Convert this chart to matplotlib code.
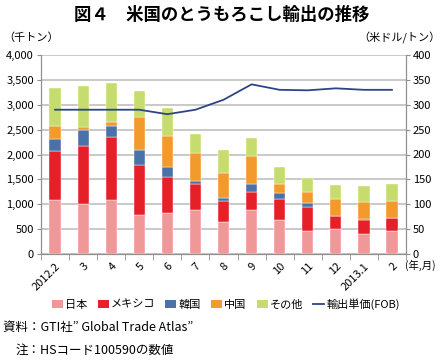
import numpy as np
import matplotlib
matplotlib.use("Agg")
import matplotlib.pyplot as plt
from matplotlib.patches import Patch
from matplotlib.lines import Line2D

plt.rcParams['font.family'] = ['Noto Sans CJK JP', 'DejaVu Sans']

# data (thousand tons, FOB price in USD/ton)
months = ["2012.2", "3", "4", "5", "6", "7", "8", "9", "10", "11", "12", "2013.1", "2"]
japan = [1090, 1000, 1090, 790, 830, 890, 640, 876, 690, 468, 508, 395, 455]
mexico = [985, 1180, 1258, 1003, 722, 522, 424, 368, 408, 475, 248, 281, 261]
korea = [240, 315, 234, 288, 187, 60, 60, 161, 127, 74, 13, 33, 5]
china = [260, 60, 74, 675, 623, 562, 495, 555, 181, 221, 328, 328, 341]
other = [770, 830, 783, 529, 575, 381, 475, 381, 341, 294, 281, 321, 348]
price = [290, 290, 290, 290, 281, 290, 310, 341, 330, 329, 333, 330, 330]

names = ["日本", "メキシコ", "韓国", "中国", "その他"]
colors = ["#f09898", "#e52028", "#4a72a8", "#f39a2c", "#c6dc6c"]
line_color = "#2e4585"

fig = plt.figure(figsize=(4.43, 3.62), dpi=100)
ax = fig.add_axes([41 / 443, 1 - 254 / 362, 365 / 443, 199 / 362])
ax2 = ax.twinx()

x = np.arange(len(months))
bottom = np.zeros(len(months))
for vals, c in zip([japan, mexico, korea, china, other], colors):
    ax.bar(x, vals, width=0.4, bottom=bottom, color=c, edgecolor="white", linewidth=0.3, zorder=3)
    bottom += np.array(vals)

ax2.plot(x, price, color=line_color, lw=1.3, zorder=4)

ax.set_xlim(-0.5, len(months) - 0.5)
ax.set_ylim(0, 4000)
ax2.set_ylim(0, 400)
ax.set_yticks(np.arange(0, 4001, 500))
ax.set_yticklabels([f"{v:,}" for v in range(0, 4001, 500)], fontsize=8)
ax2.set_yticks(np.arange(0, 401, 50))
ax2.set_yticklabels([str(v) for v in range(0, 401, 50)], fontsize=8)
ax.yaxis.grid(True, color="#c0c0c0", lw=1.2, zorder=0)
ax.set_axisbelow(True)

ax.set_xticks(x)
ax.set_xticklabels(months, rotation=45, ha="right", rotation_mode="anchor", fontsize=8)
ax.tick_params(axis="x", length=0, pad=5)
ax.set_xticks(np.arange(-0.5, len(months)), minor=True)
ax.tick_params(axis="x", which="minor", length=4, color="#909090")
ax.tick_params(axis="y", length=3, color="#909090", pad=2)
ax2.tick_params(axis="y", length=3, color="#909090", pad=2)

for a in (ax, ax2):
    a.spines["top"].set_visible(False)
    for s in ("left", "right", "bottom"):
        a.spines[s].set_color("#909090")

fig.text(0.5, 1 - 15 / 362, "図４　米国のとうもろこし輸出の推移", ha="center", va="center",
         fontsize=12.5, fontweight="bold")
fig.text(3 / 443, 1 - 38 / 362, "（千トン）", ha="left", va="center", fontsize=8)
fig.text(441 / 443, 1 - 38 / 362, "（米ドル/トン）", ha="right", va="center", fontsize=8)
fig.text(405 / 443, 1 - 265 / 362, "(年,月)", ha="left", va="center", fontsize=7.5)

handles = [Patch(facecolor=c, edgecolor="none") for c in colors]
handles.append(Line2D([0], [0], color=line_color, lw=1.3))
fig.legend(handles, names + ["輸出単価(FOB)"], loc="center", bbox_to_anchor=(226 / 443, 1 - 304 / 362),
           ncol=6, frameon=False, fontsize=8, handlelength=1.0, handleheight=0.8,
           handletextpad=0.2, columnspacing=0.9)

fig.text(3 / 443, 1 - 327 / 362, "資料：GTI社\u201d Global Trade Atlas\u201d", ha="left", va="center", fontsize=9)
fig.text(16 / 443, 1 - 350 / 362, "注：HSコード100590の数値", ha="left", va="center", fontsize=9)

fig.savefig("out.png", dpi=100)
